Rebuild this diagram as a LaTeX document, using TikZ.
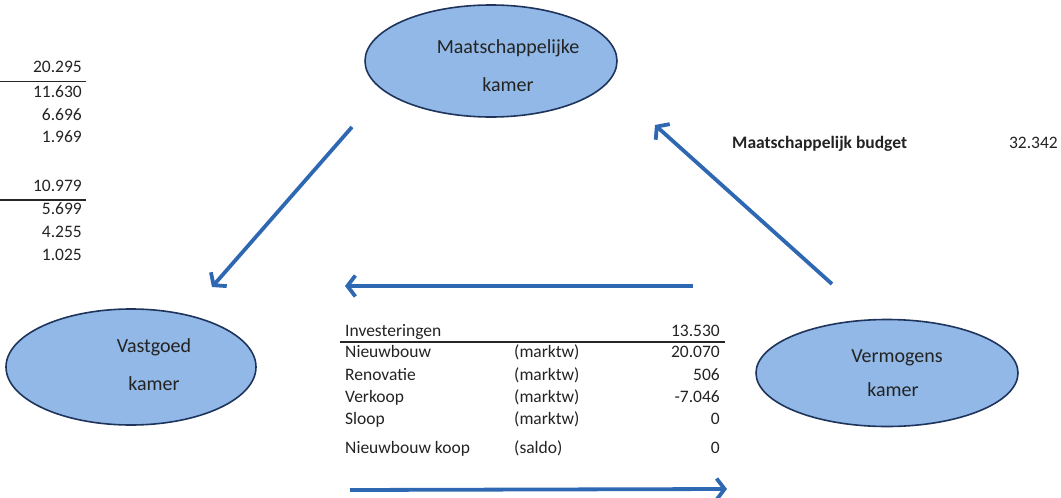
\documentclass[tikz,border=0pt]{standalone}
\usepackage{fontspec}
\setmainfont{Carlito}
\usetikzlibrary{shapes.geometric,arrows.meta}
\definecolor{arrowblue}{RGB}{46,104,178}
\definecolor{fillblue}{RGB}{145,184,230}
\definecolor{edgenavy}{RGB}{31,52,92}
\definecolor{txt}{RGB}{35,35,35}
\tikzset{
  room/.style={ellipse, draw=edgenavy, line width=1.6pt, fill=fillblue, inner sep=0pt},
  roomtext/.style={text=txt, font=\fontsize{20}{23}\selectfont, inner sep=0pt},
  flow/.style={draw=arrowblue, line width=3.8pt, -{Straight Barb[length=8pt,width=21pt]}},
  numr/.style={anchor=mid east, text=txt, font=\fontsize{17.5}{20}\selectfont, inner sep=0pt},
  numl/.style={anchor=mid west, text=txt, font=\fontsize{17.5}{20}\selectfont, inner sep=0pt},
  rule/.style={draw=black!85, line width=1.3pt}
}
\begin{document}
\begin{tikzpicture}[x=1pt,y=-1pt]
\useasboundingbox (0,0) rectangle (1061,498);
% rooms
\node[room, minimum width=252pt, minimum height=112pt] (mk) at (491,61) {};
\node[roomtext] (mk1) at (508,48) {Maatschappelijke};
\node[roomtext] (mk2) at (508,85) {kamer};
\node[room, minimum width=250pt, minimum height=116pt] (vg) at (131,367) {};
\node[roomtext] (vg1) at (154,347) {Vastgoed};
\node[roomtext] (vg2) at (154,384) {kamer};
\node[room, minimum width=262pt, minimum height=107pt] (vm) at (887,373) {};
\node[roomtext] (vm1) at (897,358) {Vermogens};
\node[roomtext] (vm2) at (893,390) {kamer};
% left column
\node[numr] (l1) at (82,70.5) {20.295};
\node[numr] (l2) at (82,95) {11.630};
\node[numr] (l3) at (82,117.7) {6.696};
\node[numr] (l4) at (82,140) {1.969};
\node[numr] (l5) at (82,189) {10.979};
\node[numr] (l6) at (82,211.7) {5.699};
\node[numr] (l7) at (82,235) {4.255};
\node[numr] (l8) at (82,258) {1.025};
\coordinate (r1a) at (0,81.7); \coordinate (r1b) at (86,81.7);
\coordinate (r2a) at (0,200); \coordinate (r2b) at (86,200);
\draw[rule] (r1a) -- (r1b);
\draw[rule] (r2a) -- (r2b);
% budget
\node[numl, font=\fontsize{17.5}{20}\selectfont\bfseries] (mb) at (732,146) {Maatschappelijk budget};
\node[numr] (mbv) at (1058,146) {32.342};
% table
\node[numl] (t0) at (345,334) {Investeringen};
\node[numr] (t0v) at (720,334) {13.530};
\coordinate (tla) at (340,342); \coordinate (tlb) at (725,342);
\draw[rule] (tla) -- (tlb);
\node[numl] (t1) at (345,355) {Nieuwbouw};
\node[numl] (t1m) at (514,355) {(marktw)};
\node[numr] (t1v) at (720,355) {20.070};
\node[numl] (t2) at (345,378) {Renovatie};
\node[numl] (t2m) at (514,378) {(marktw)};
\node[numr] (t2v) at (720,378) {506};
\node[numl] (t3) at (345,400) {Verkoop};
\node[numl] (t3m) at (514,400) {(marktw)};
\node[numr] (t3v) at (720,400) {-7.046};
\node[numl] (t4) at (345,422) {Sloop};
\node[numl] (t4m) at (514,422) {(marktw)};
\node[numr] (t4v) at (720,422) {0};
\node[numl] (t5) at (345,451) {Nieuwbouw koop};
\node[numl] (t5m) at (514,451) {(saldo)};
\node[numr] (t5v) at (720,451) {0};
% arrows
\coordinate (a1s) at (352,127); \coordinate (a1e) at (212,287);
\coordinate (a2s) at (832,284); \coordinate (a2e) at (655,125);
\coordinate (a3s) at (693,286); \coordinate (a3e) at (345,286);
\coordinate (a4s) at (350,490); \coordinate (a4e) at (727,489);
\draw[flow] (a1s) -- (a1e);
\draw[flow] (a2s) -- (a2e);
\draw[flow] (a3s) -- (a3e);
\draw[flow] (a4s) -- (a4e);
\end{tikzpicture}
\end{document}
